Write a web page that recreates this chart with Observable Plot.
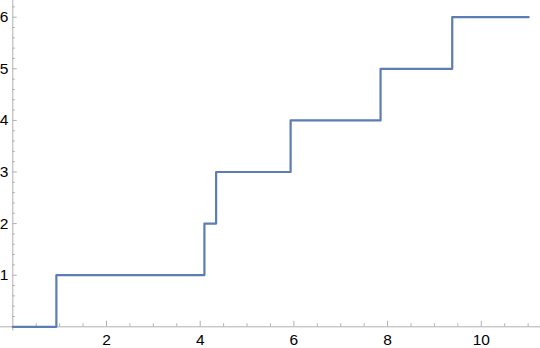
<!DOCTYPE html>
<html>
<head>
<meta charset="utf-8">
<script src="https://cdn.jsdelivr.net/npm/d3@7"></script>
<script src="https://cdn.jsdelivr.net/npm/@observablehq/plot@0.6"></script>
<style>
  html, body { margin: 0; padding: 0; background: #fff; }
  #chart svg { display: block; }
</style>
</head>
<body>
<div id="chart"></div>
<script>
// Step positions (x where each level begins) and levels
const stepX = [0, 0.93, 4.09, 4.34, 5.93, 7.85, 9.38, 11.01];
const stepY = [0, 1, 2, 3, 4, 5, 6, 6];

// Tick values
const xMajor = [2, 4, 6, 8, 10];
const xMinor = [0.5, 1, 1.5, 2.5, 3, 3.5, 4.5, 5, 5.5, 6.5, 7, 7.5, 8.5, 9, 9.5, 10.5, 11];
const yMajor = [1, 2, 3, 4, 5, 6];
const yMinor = [0.2, 0.4, 0.6, 0.8, 1.2, 1.4, 1.6, 1.8, 2.2, 2.4, 2.6, 2.8, 3.2, 3.4, 3.6, 3.8,
                4.2, 4.4, 4.6, 4.8, 5.2, 5.4, 5.6, 5.8, 6.2];

const data = stepX.map((x, i) => ({x, y: stepY[i]}));

const W = 540, H = 348, MB = 21.7;
const plotH = H - MB;
const axisColor = "#b0b0b0";

const chart = Plot.plot({
  width: W,
  height: H,
  marginLeft: 0,
  marginRight: 0,
  marginTop: 0,
  marginBottom: MB,
  x: {domain: [-0.2625, 11.264], axis: null},
  y: {domain: [0, 6.3236], axis: null},
  style: {fontFamily: "'Liberation Sans', Arial, sans-serif", background: "#fff"},
  marks: [
    // axes lines
    Plot.ruleY([0], {stroke: axisColor, strokeWidth: 1}),
    Plot.ruleX([0], {y1: -0.08, y2: 6.3236, stroke: axisColor, strokeWidth: 1}),
    // x ticks (pointing up into plot)
    Plot.tickX(xMajor, {x: d => d, stroke: axisColor, insetTop: plotH - 5.5}),
    Plot.tickX(xMinor, {x: d => d, stroke: axisColor, insetTop: plotH - 3}),
    // y ticks (pointing right into plot)
    Plot.tickY(yMajor, {y: d => d, stroke: axisColor, insetLeft: 12.3, insetRight: W - 12.3 - 4.5}),
    Plot.tickY(yMinor, {y: d => d, stroke: axisColor, insetLeft: 12.3, insetRight: W - 12.3 - 2.5}),
    // tick labels
    Plot.text(xMajor, {x: d => d, y: 0, text: d => String(d), dy: 13, fill: "#000", fontSize: 15.5, lineAnchor: "middle"}),
    Plot.text(yMajor, {x: 0, y: d => d, text: d => String(d), dx: -4.5, textAnchor: "end", fill: "#000", fontSize: 15.5}),
    // step line
    Plot.line(data, {x: "x", y: "y", curve: "step-after", stroke: "#5B7DB3", strokeWidth: 2.2})
  ]
});

document.getElementById("chart").appendChild(chart);
</script>
</body>
</html>
